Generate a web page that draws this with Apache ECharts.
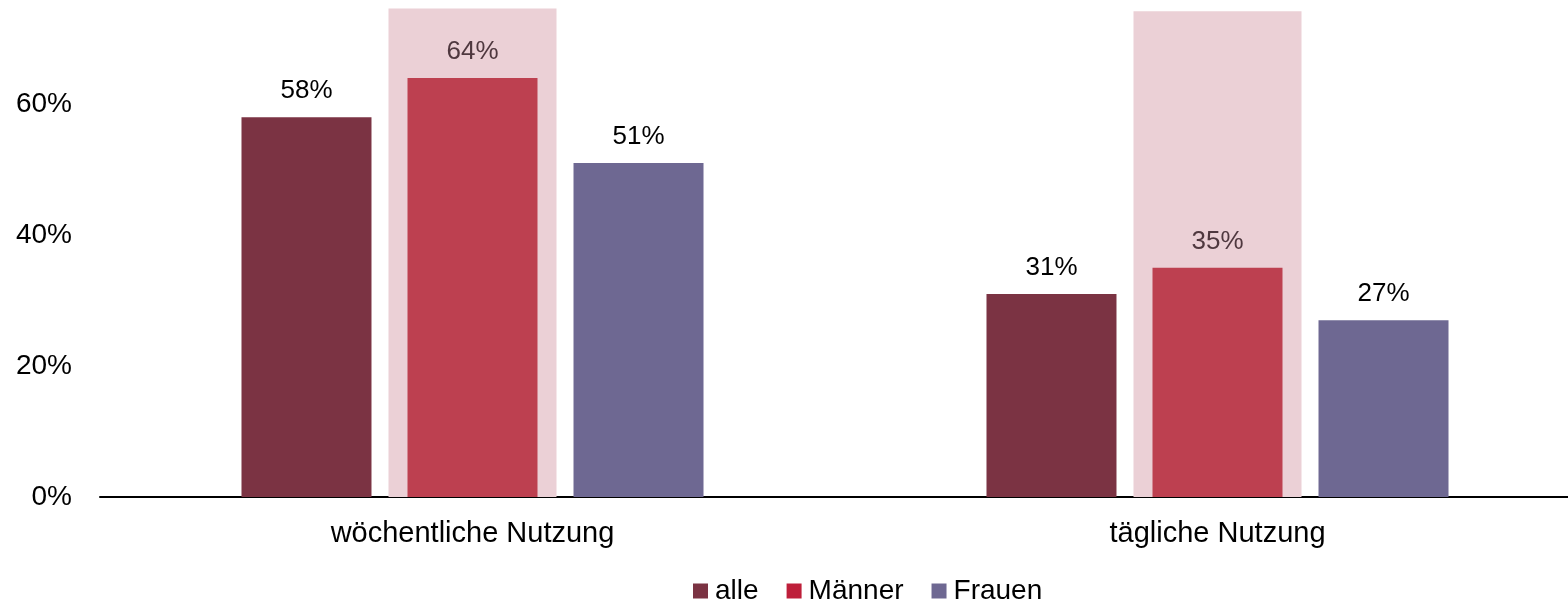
<!DOCTYPE html>
<html>
<head>
<meta charset="utf-8">
<script src="https://cdn.jsdelivr.net/npm/echarts@6/dist/echarts.min.js"></script>
<style>html,body{margin:0;padding:0;background:#fff;overflow:hidden}#c{width:1590px;height:605px}</style>
</head>
<body>
<div id="c"></div>
<script>
const categories = ['wöchentliche Nutzung', 'tägliche Nutzung'];
const seriesNames = ['alle', 'Männer', 'Frauen'];
const alle = [58, 31];
const maenner = [64, 35];
const frauen = [51, 27];
const highlight = [74.6, 74.2];
const yTicks = [0, 20, 40, 60];

const FONT = 'Liberation Sans, Arial, sans-serif';
const chart = echarts.init(document.getElementById('c'), null, {renderer: 'canvas'});

function barSeries(name, data, color, labelColor) {
  return {
    name: name, type: 'bar', data: data, xAxisIndex: 0, yAxisIndex: 0,
    barWidth: 130, barGap: '27.7%', z: 3,
    itemStyle: {color: color},
    label: {show: true, position: 'top', distance: 13, formatter: '{c}%',
            color: labelColor, fontSize: 26, fontFamily: FONT}
  };
}

chart.setOption({
  animation: false,
  grid: {left: 100, right: 0, top: 6, bottom: 108, containLabel: false},
  legend: {
    left: 688, bottom: -5, itemWidth: 15, itemHeight: 15, itemGap: 28, icon: 'rect',
    textStyle: {fontSize: 28, fontFamily: FONT, color: '#000', padding: [0, 0, 0, 2]},
    data: [
      {name: 'alle', itemStyle: {color: '#7B3343'}},
      {name: 'Männer', itemStyle: {color: '#BE1F3A'}},
      {name: 'Frauen', itemStyle: {color: '#6E6892'}}
    ]
  },
  xAxis: [
    {type: 'category', data: categories,
     axisLine: {show: true, lineStyle: {color: '#000', width: 2}},
     axisTick: {show: false},
     axisLabel: {fontSize: 29, fontFamily: FONT, color: '#000', margin: 22}},
    {type: 'category', data: categories, show: false}
  ],
  yAxis: {
    type: 'value', min: 0, max: 75, interval: 20,
    axisLine: {show: false}, axisTick: {show: false}, splitLine: {show: false},
    axisLabel: {fontSize: 28, fontFamily: FONT, color: '#000', margin: 28,
      showMaxLabel: false, padding: [3, 0, 0, 0],
      formatter: function (v) { return yTicks.indexOf(v) >= 0 ? v + '%' : ''; }}
  },
  series: [
    {name: 'highlight', type: 'bar', data: highlight, xAxisIndex: 1, yAxisIndex: 0,
     barWidth: 168, z: 1, silent: true, itemStyle: {color: '#EBD0D6'}, legendHoverLink: false},
    barSeries('alle', alle, '#7B3343', '#000'),
    barSeries('Männer', maenner, '#BD4050', '#4F383F'),
    barSeries('Frauen', frauen, '#6E6892', '#000')
  ]
});
</script>
</body>
</html>
